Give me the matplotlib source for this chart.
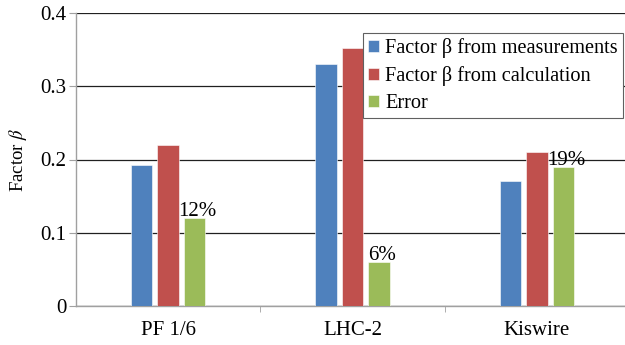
import matplotlib.pyplot as plt
import numpy as np

categories = ["PF 1/6", "LHC-2", "Kiswire"]
beta_measured = [0.193, 0.33, 0.17]
beta_calculated = [0.22, 0.352, 0.21]
error = [0.12, 0.06, 0.19]
error_labels = ["12%", "6%", "19%"]

series_names = ["Factor \u03b2 from measurements", "Factor \u03b2 from calculation", "Error"]
colors = ["#4F81BD", "#C0504D", "#9BBB59"]

plt.rcParams["font.family"] = "serif"
plt.rcParams["font.serif"] = ["Liberation Serif", "DejaVu Serif"]
plt.rcParams["mathtext.fontset"] = "stix"

fig = plt.figure(figsize=(6.25, 3.45), dpi=100)
ax = fig.add_axes([76 / 625, 39 / 345, 553 / 625, 293 / 345])

x = np.arange(len(categories))
width = 0.117
step = 0.1436
for i, (vals, name, col) in enumerate(zip([beta_measured, beta_calculated, error], series_names, colors)):
    bars = ax.bar(x + (i - 1) * step, vals, width, color=col, label=name, zorder=3,
                  edgecolor="white", linewidth=0.4)
    if i == 2:
        for b, lab in zip(bars, error_labels):
            ax.text(b.get_x() + b.get_width() / 2 + 0.015, b.get_height() - 0.004, lab,
                    ha="center", va="bottom", fontsize=15, zorder=4)

ax.set_xlim(-0.5, 2.5)
ax.set_ylim(0, 0.4)
ax.set_yticks([0, 0.1, 0.2, 0.3, 0.4])
ax.set_yticklabels(["0", "0.1", "0.2", "0.3", "0.4"])
ax.yaxis.grid(True, color="#202020", linewidth=0.9, zorder=0)
ax.set_axisbelow(True)

ax.set_xticks(x)
ax.set_xticklabels(categories)
ax.set_xticks([0.5, 1.5], minor=True)
ax.tick_params(axis="x", which="major", length=0, pad=11, labelsize=15)
ax.tick_params(axis="x", which="minor", length=4, color="#a0a0a0", direction="out")
ax.tick_params(axis="y", length=5, color="#a0a0a0", labelsize=15, pad=2)

for s in ["top", "right"]:
    ax.spines[s].set_visible(False)
for s in ["left", "bottom"]:
    ax.spines[s].set_color("#a0a0a0")
    ax.spines[s].set_linewidth(1.0)

ax.set_ylabel("Factor $\\beta$", fontsize=13.5, labelpad=8)

leg = ax.legend(loc="upper right", bbox_to_anchor=(623 / 625, 1 - 33 / 345),
                bbox_transform=fig.transFigure, fontsize=14.6, frameon=True,
                fancybox=False, edgecolor="#606060", framealpha=1,
                handlelength=0.55, handleheight=0.55, handletextpad=0.3,
                borderpad=0.25, labelspacing=0.4, borderaxespad=0)
leg.get_frame().set_linewidth(0.8)

fig.savefig("out.png", dpi=100)
